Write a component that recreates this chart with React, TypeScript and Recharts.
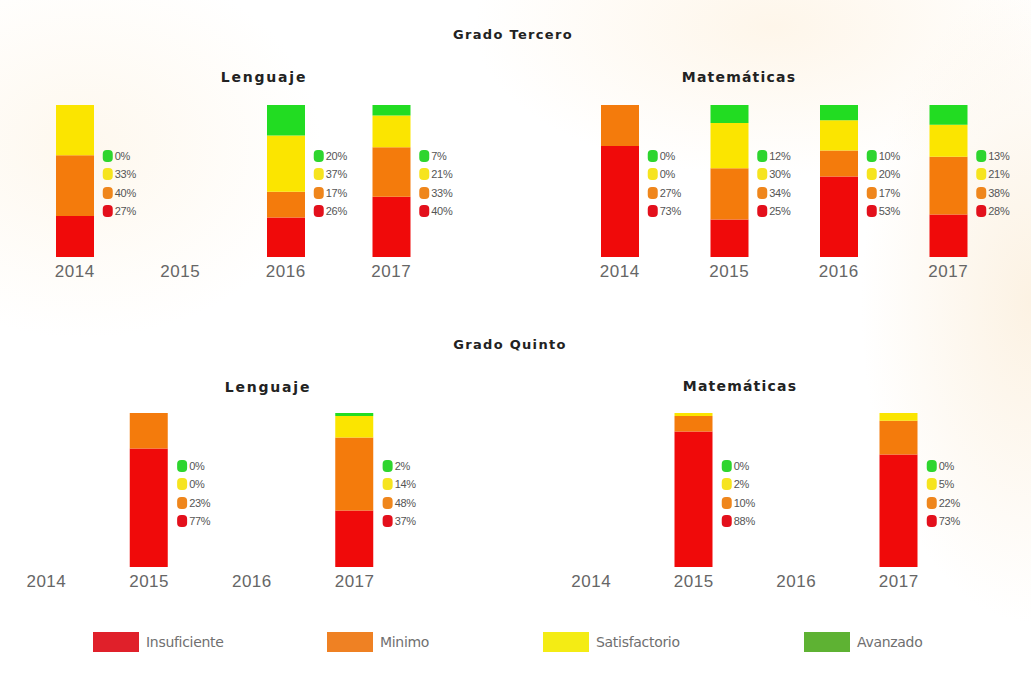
import React from 'react';
import { BarChart, Bar, XAxis, YAxis } from 'recharts';

const years = ['2014', '2015', '2016', '2017'];

// Grado Tercero - Lenguaje
const terLenInsuficiente = [27, null, 26, 40];
const terLenMinimo = [40, null, 17, 33];
const terLenSatisfactorio = [33, null, 37, 21];
const terLenAvanzado = [0, null, 20, 7];

// Grado Tercero - Matemáticas
const terMatInsuficiente = [73, 25, 53, 28];
const terMatMinimo = [27, 34, 17, 38];
const terMatSatisfactorio = [0, 30, 20, 21];
const terMatAvanzado = [0, 12, 10, 13];

// Grado Quinto - Lenguaje
const quiLenInsuficiente = [null, 77, null, 37];
const quiLenMinimo = [null, 23, null, 48];
const quiLenSatisfactorio = [null, 0, null, 14];
const quiLenAvanzado = [null, 0, null, 2];

// Grado Quinto - Matemáticas
const quiMatInsuficiente = [null, 88, null, 73];
const quiMatMinimo = [null, 10, null, 22];
const quiMatSatisfactorio = [null, 2, null, 5];
const quiMatAvanzado = [null, 0, null, 0];

const levelNames = ['Insuficiente', 'Mínimo', 'Satisfactorio', 'Avanzado'];
const legendNames = ['Insuficiente', 'Minimo', 'Satisfactorio', 'Avanzado'];

const BAR = { ins: '#f00a0a', min: '#f47b0c', sat: '#fbe500', ava: '#22dc22' };
const DOT = { ins: '#e3101c', min: '#ef861c', sat: '#f6e41e', ava: '#2ed52e' };
const LEG = ['#e0202a', '#ef8123', '#f4ec14', '#5eb233'];

type Row = { year: string; ins: number | null; min: number | null; sat: number | null; ava: number | null };

function buildTable(ins: (number | null)[], min: (number | null)[], sat: (number | null)[], ava: (number | null)[]): Row[] {
  return years.map((y, i) => ({ year: y, ins: ins[i], min: min[i], sat: sat[i], ava: ava[i] }));
}

const panels = [
  { key: 'tl', data: buildTable(terLenInsuficiente, terLenMinimo, terLenSatisfactorio, terLenAvanzado), left: 0, top: 95, width: 520, plotH: 152, mLeft: 22, mRight: 76 },
  { key: 'tm', data: buildTable(terMatInsuficiente, terMatMinimo, terMatSatisfactorio, terMatAvanzado), left: 520, top: 95, width: 511, plotH: 152, mLeft: 45, mRight: 28 },
  { key: 'ql', data: buildTable(quiLenInsuficiente, quiLenMinimo, quiLenSatisfactorio, quiLenAvanzado), left: -10, top: 403, width: 500, plotH: 154, mLeft: 5, mRight: 84 },
  { key: 'qm', data: buildTable(quiMatInsuficiente, quiMatMinimo, quiMatSatisfactorio, quiMatAvanzado), left: 520, top: 403, width: 511, plotH: 154, mLeft: 20, mRight: 81 },
];

const makeTick = (data: Row[]) => (props: any) => {
  const { x, y, payload } = props;
  const row = data.find((d) => d.year === payload.value);
  const has = row && row.ins !== null;
  const rows = has
    ? [
        { c: DOT.ava, v: row!.ava, dy: -101 },
        { c: DOT.sat, v: row!.sat, dy: -83 },
        { c: DOT.min, v: row!.min, dy: -64 },
        { c: DOT.ins, v: row!.ins, dy: -46 },
      ]
    : [];
  return (
    <g>
      <text x={x} y={y + 20} textAnchor="middle" fontFamily="Liberation Sans, Arial, sans-serif" fontSize={17} letterSpacing={0.5} fill="#666">
        {payload.value}
      </text>
      {rows.map((r, i) => (
        <g key={i}>
          <rect x={x + 28} y={y + r.dy - 6} width={10} height={12} rx={4} fill={r.c} />
          <text x={x + 40} y={y + r.dy + 4} fontFamily="Liberation Sans, Arial, sans-serif" fontSize={11} letterSpacing={-0.3} fill="#555">
            {`${r.v}%`}
          </text>
        </g>
      ))}
    </g>
  );
};

function Panel(p: (typeof panels)[number]) {
  const height = 10 + p.plotH + 38;
  return (
    <div style={{ position: 'absolute', left: p.left, top: p.top }}>
      <BarChart width={p.width} height={height} data={p.data} stackOffset="expand" margin={{ top: 10, left: p.mLeft, right: p.mRight, bottom: 0 }}>
        <XAxis dataKey="year" axisLine={false} tickLine={false} tickSize={0} tickMargin={0} height={38} interval={0} tick={makeTick(p.data)} />
        <YAxis hide domain={[0, 1]} />
        <Bar dataKey="ins" name={levelNames[0]} stackId="a" fill={BAR.ins} barSize={38} isAnimationActive={false} />
        <Bar dataKey="min" name={levelNames[1]} stackId="a" fill={BAR.min} barSize={38} isAnimationActive={false} />
        <Bar dataKey="sat" name={levelNames[2]} stackId="a" fill={BAR.sat} barSize={38} isAnimationActive={false} />
        <Bar dataKey="ava" name={levelNames[3]} stackId="a" fill={BAR.ava} barSize={38} isAnimationActive={false} />
      </BarChart>
    </div>
  );
}

const titles = [
  { t: 'Grado Tercero', x: 513, y: 35, s: 13, ls: 1.3 },
  { t: 'Lenguaje', x: 264, y: 77, s: 14, ls: 1.8 },
  { t: 'Matemáticas', x: 739, y: 77, s: 14, ls: 1.2 },
  { t: 'Grado Quinto', x: 510, y: 345, s: 13, ls: 1.3 },
  { t: 'Lenguaje', x: 268, y: 387, s: 14, ls: 1.8 },
  { t: 'Matemáticas', x: 740, y: 386, s: 14, ls: 1.2 },
];

const legendX = [93, 327, 543, 804];

export default function App() {
  return (
    <div
      style={{
        position: 'absolute',
        left: 0,
        top: 0,
        width: 1031,
        height: 673,
        overflow: 'hidden',
        background:
          'radial-gradient(ellipse 170px 320px at 100% 45%, #fcf2e3 0%, rgba(255,255,255,0) 100%), radial-gradient(ellipse 240px 190px at 8% 22%, #fef8ee 0%, rgba(255,255,255,0) 100%), radial-gradient(ellipse 300px 150px at 75% 4%, #fef6ea 0%, rgba(255,255,255,0) 100%), #ffffff',
      }}
    >
      {titles.map((t, i) => (
        <div
          key={i}
          style={{
            position: 'absolute',
            left: t.x - 150,
            top: t.y - 10,
            width: 300,
            height: 20,
            lineHeight: '20px',
            textAlign: 'center',
            fontFamily: 'DejaVu Sans, sans-serif',
            fontWeight: 700,
            fontSize: t.s,
            letterSpacing: t.ls,
            color: '#222',
          }}
        >
          {t.t}
        </div>
      ))}
      {panels.map((p) => (
        <Panel {...p} />
      ))}
      {legendNames.map((n, i) => (
        <div key={n} style={{ position: 'absolute', left: legendX[i], top: 631, height: 22, display: 'flex', alignItems: 'center' }}>
          <div style={{ width: 46, height: 20, background: LEG[i] }} />
          <span style={{ marginLeft: 7, fontFamily: 'DejaVu Sans, sans-serif', fontSize: 14, color: '#707070', letterSpacing: -0.3 }}>{n}</span>
        </div>
      ))}
    </div>
  );
}
